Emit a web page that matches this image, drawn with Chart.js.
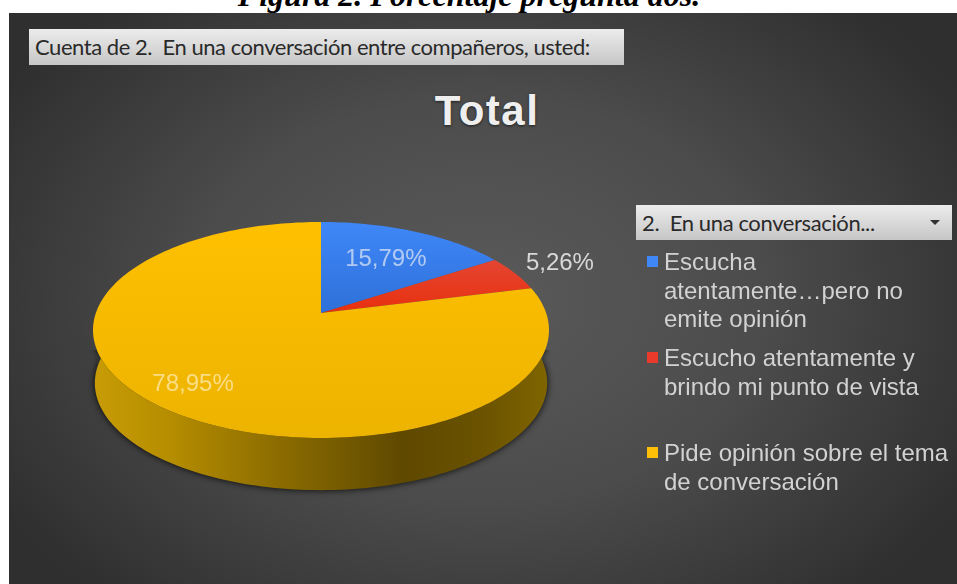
<!DOCTYPE html>
<html lang="es">
<head>
<meta charset="utf-8">
<title>Figura 2</title>
<script src="https://cdn.jsdelivr.net/npm/chart.js@4"></script>
<style>
  html, body { margin: 0; padding: 0; background: #fff; overflow: hidden; }
  #pagina { position: relative; width: 957px; height: 584px; overflow: hidden; }
  #leyenda-figura {
    position: absolute; left: 0; width: 938px; top: -23px; text-align: center; white-space: nowrap;
    font: italic bold 32px "Liberation Serif", serif; color: #000;
  }
  #panel {
    position: absolute; left: 9px; top: 13px; width: 948px; height: 571px;
    background: radial-gradient(ellipse 560px 400px at 471px 287px, #5a5a5a 0%, #4c4c4c 50%, #2f2f2f 100%);
  }
  canvas { position: absolute; left: 0; top: 0; }
  .caja {
    position: absolute; background: linear-gradient(#ececec, #c6c6c6);
    font-family: Lato, sans-serif; color: #2a2a2a; white-space: pre; box-sizing: border-box;
    font-size: 22px; letter-spacing: -.38px;
  }
  #caja-campo { left: 29px; top: 29px; width: 595px; height: 36px; line-height: 36px; padding-left: 6px; letter-spacing: -.45px; }
  #caja-filtro { left: 636px; top: 205px; width: 316px; height: 35px; line-height: 35px; padding-left: 6px; }
  #flecha {
    position: absolute; left: 930px; top: 220px; width: 0; height: 0;
    border-left: 5px solid transparent; border-right: 5px solid transparent; border-top: 5px solid #333;
  }
  #titulo {
    position: absolute; left: 387px; width: 200px; top: 87px; text-align: center;
    font: bold 42px "Liberation Sans", sans-serif; letter-spacing: 1.5px; color: #efefef;
    text-shadow: 0 1px 3px rgba(0,0,0,.6);
  }
  .item {
    position: absolute; left: 664px; white-space: pre-line;
    font: 24px/28.5px "Liberation Sans", sans-serif; color: #d2d2d2;
  }
  .marca { position: absolute; left: 647px; width: 11px; height: 11px; }
</style>
</head>
<body>
<div id="pagina">
  <div id="leyenda-figura">Figura 2. Porcentaje pregunta dos.</div>
  <div id="panel"></div>
  <div class="caja" id="caja-campo">Cuenta de 2.  En una conversación entre compañeros, usted:</div>
  <div id="titulo">Total</div>
  <canvas id="graficoPastel" width="957" height="584"></canvas>
  <div class="caja" id="caja-filtro">2.  En una conversación...</div>
  <div id="flecha"></div>
</div>
<script>
const categorias = [
  "Escucha\natentamente…pero no\nemite opinión",
  "Escucho atentamente y\nbrindo mi punto de vista",
  "Pide opinión sobre el tema\nde conversación"
];
const porcentajes = [15.79, 5.26, 78.95];
const coloresMarca = ["#3f86f7", "#ea3a2c", "#fdbf08"];
const coloresCara = [["#3f87f8", "#2e70d8"], ["#e2544c", "#e8300e"], ["#ffc000", "#ecb300"]];
const paradasLado = [
  [0, "#c89c06"], [0.17, "#b58d00"], [0.35, "#967400"], [0.5, "#7c6000"],
  [0.68, "#5f4900"], [0.85, "#6a5200"], [1, "#806500"]
];
const coloresEtiqueta = ["rgba(225,232,245,.72)", "#d8d8d8", "rgba(255,245,215,.62)"];
const radiosEtiqueta = [0.66, 1.25, 0.83];
const ajusteEtiquetaY = [2, -1, -6];
const topesLeyenda = [248, 344, 439];

// geometria de la tapa: disco proyectado en perspectiva
const CX = 321, CY = 330, RX = 228, RY = 108, DESV = -0.157, GROSOR = 53;

function proyectar(r, ang, bajada) {
  const x = r * Math.cos(ang), y = r * Math.sin(ang);
  const d = 1 + DESV * y;
  const px = x * Math.sqrt(1 - DESV * DESV) / d;
  const py = (y + DESV) / d;
  const esc = bajada ? 0.992 : 1;
  return [CX + RX * esc * px, CY + RY * esc * py + (bajada ? GROSOR : 0)];
}

function trazarBorde(ctx, a0, a1, bajada, inverso) {
  const pasos = Math.max(8, Math.ceil(Math.abs(a1 - a0) * 40));
  for (let i = 0; i <= pasos; i++) {
    const t = inverso ? 1 - i / pasos : i / pasos;
    const p = proyectar(1, a0 + (a1 - a0) * t, bajada);
    ctx.lineTo(p[0], p[1]);
  }
}

// las porciones salen de los angulos que calcula el controlador de Chart.js
const pastel3d = {
  id: "pastel3d",
  beforeDatasetDraw(chart, args) {
    const ctx = chart.ctx;
    const arcos = args.meta.data;

    const grad = ctx.createLinearGradient(CX - RX, 0, CX + RX, 0);
    paradasLado.forEach(p => grad.addColorStop(p[0], p[1]));
    ctx.save();
    // la sombra solo asoma por debajo del canto
    ctx.beginPath();
    ctx.rect(0, CY + 20, chart.width, chart.height);
    ctx.clip();
    ctx.shadowColor = "rgba(0,0,0,.9)";
    ctx.shadowBlur = 7;
    ctx.fillStyle = grad;
    arcos.forEach(arco => {
      ctx.beginPath();
      trazarBorde(ctx, arco.startAngle, arco.endAngle, false, false);
      trazarBorde(ctx, arco.startAngle, arco.endAngle, true, true);
      ctx.closePath();
      ctx.fill();
    });
    ctx.restore();

    arcos.forEach((arco, i) => {
      ctx.beginPath();
      const c = proyectar(0, 0, false);
      ctx.moveTo(c[0], c[1]);
      trazarBorde(ctx, arco.startAngle, arco.endAngle, false, false);
      ctx.closePath();
      const esFrente = porcentajes[i] > 50;
      const g = ctx.createLinearGradient(0, CY - RY, 0, esFrente ? CY + RY : c[1]);
      g.addColorStop(0, coloresCara[i][0]);
      g.addColorStop(1, coloresCara[i][1]);
      ctx.fillStyle = g;
      ctx.fill();
    });
    return false;
  },
  afterDatasetsDraw(chart) {
    const ctx = chart.ctx;
    const arcos = chart.getDatasetMeta(0).data;
    ctx.save();
    ctx.font = '24px "Liberation Sans", sans-serif';
    ctx.textAlign = "center";
    ctx.textBaseline = "middle";
    arcos.forEach((arco, i) => {
      const medio = (arco.startAngle + arco.endAngle) / 2;
      const p = proyectar(radiosEtiqueta[i], medio, false);
      ctx.fillStyle = coloresEtiqueta[i];
      ctx.fillText(porcentajes[i].toFixed(2).replace(".", ",") + "%", p[0], p[1] + ajusteEtiquetaY[i]);
    });
    ctx.restore();
  }
};

new Chart(document.getElementById("graficoPastel").getContext("2d"), {
  type: "pie",
  data: {
    labels: categorias,
    datasets: [{ data: porcentajes, backgroundColor: coloresMarca, borderWidth: 0 }]
  },
  options: {
    responsive: false,
    animation: false,
    plugins: { legend: { display: false }, tooltip: { enabled: false } }
  },
  plugins: [pastel3d]
});

// leyenda con los saltos de linea de cada categoria
const pagina = document.getElementById("pagina");
categorias.forEach((cat, i) => {
  const texto = document.createElement("div");
  texto.className = "item";
  texto.style.top = topesLeyenda[i] + "px";
  texto.textContent = cat;
  pagina.appendChild(texto);
  const marca = document.createElement("div");
  marca.className = "marca";
  marca.style.top = (topesLeyenda[i] + 8) + "px";
  marca.style.background = coloresMarca[i];
  pagina.appendChild(marca);
});
</script>
</body>
</html>
